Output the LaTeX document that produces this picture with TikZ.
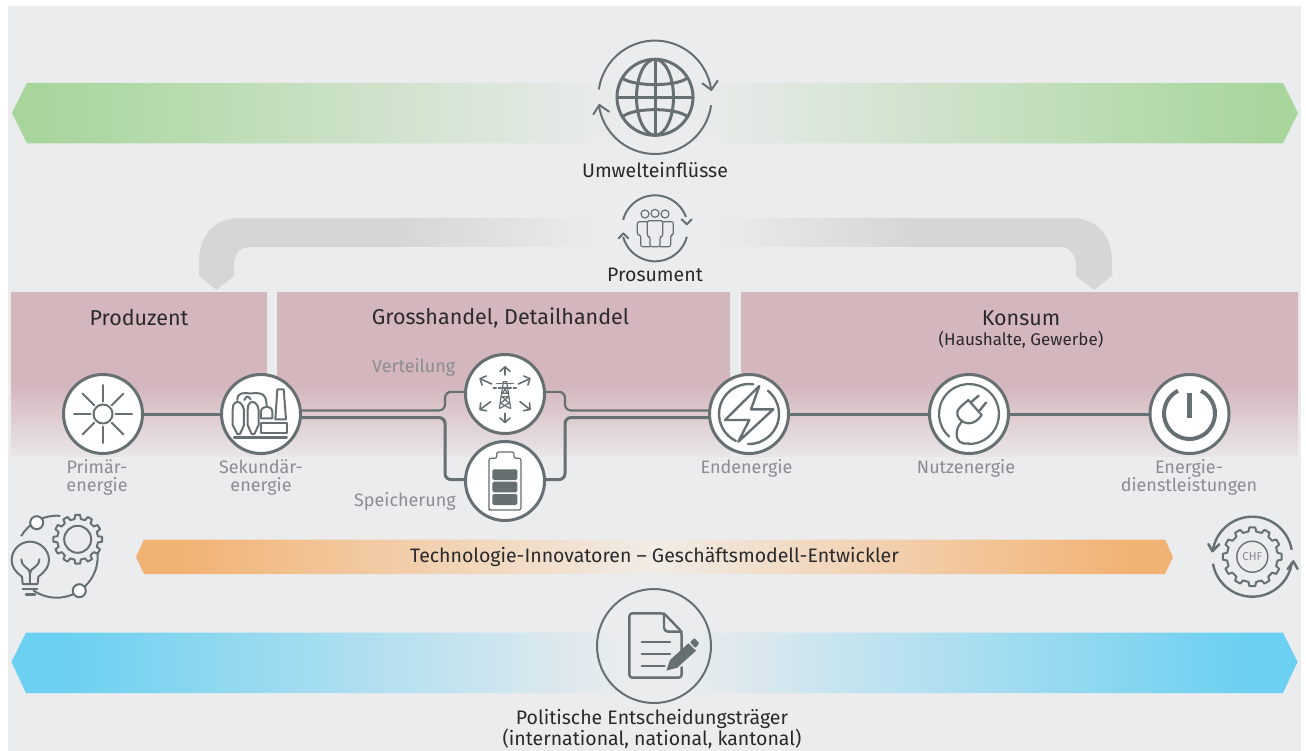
\documentclass[tikz,border=0pt]{standalone}
\usepackage{fontspec}
\setmainfont{Fira Sans}
\usetikzlibrary{arrows.meta,calc}
\definecolor{bgc}{HTML}{EBECEE}
\definecolor{pinkc}{HTML}{D4B6BD}
\definecolor{pinkend}{HTML}{E9E6E8}
\definecolor{greenc}{HTML}{A8D59C}
\definecolor{bluec}{HTML}{6BD0F1}
\definecolor{orangec}{HTML}{F2B273}
\definecolor{orangemid}{HTML}{F1ECE6}
\definecolor{archc}{HTML}{D5D6D8}
\definecolor{linec}{HTML}{667072}
\definecolor{labelc}{HTML}{8A8E91}
\definecolor{textc}{HTML}{2A2A2C}
\pgfdeclarehorizontalshading{greenfade}{100bp}{color(0bp)=(greenc);color(26bp)=(greenc);color(49bp)=(bgc);color(51bp)=(bgc);color(74bp)=(greenc);color(100bp)=(greenc)}
\pgfdeclarehorizontalshading{bluefade}{100bp}{color(0bp)=(bluec);color(27bp)=(bluec);color(49bp)=(bgc);color(51bp)=(bgc);color(73bp)=(bluec);color(100bp)=(bluec)}
\pgfdeclarehorizontalshading{orangefade}{100bp}{color(0bp)=(orangec);color(27bp)=(orangec);color(50bp)=(orangemid);color(73bp)=(orangec);color(100bp)=(orangec)}
\pgfdeclarehorizontalshading{archfade}{100bp}{color(0bp)=(archc);color(36bp)=(archc);color(47bp)=(bgc);color(53bp)=(bgc);color(64bp)=(archc);color(100bp)=(archc)}
\pgfdeclareverticalshading{pinkfade}{100bp}{color(0bp)=(pinkend);color(25bp)=(pinkend);color(47bp)=(pinkc);color(100bp)=(pinkc)}
\tikzset{
  hub/.style={circle,draw=linec,fill=white,line width=3pt,minimum size=79pt,inner sep=0pt},
  linkthick/.style={draw=linec,line width=3pt,rounded corners=6pt},
  linkthin/.style={draw=linec,line width=2.2pt,rounded corners=6pt},
  icon/.style={draw=linec,line width=2pt,line cap=round,line join=round},
  iconthin/.style={draw=linec,line width=1.2pt,line cap=round,line join=round},
  zoomat/.style 2 args={shift={(#1,#2)},x=0.33333pt,y=-0.33333pt},
  localat/.style 2 args={shift={(#1,#2)},y=1pt},
  headtxt/.style={text=textc,font=\fontsize{21.5}{24}\selectfont,inner sep=0pt,align=center},
  subtxt/.style={text=textc,font=\fontsize{17}{19}\selectfont,inner sep=0pt,align=center},
  captxt/.style={text=textc,font=\fontsize{19.5}{19}\selectfont,inner sep=0pt,align=center},
  labtxt/.style={text=labelc,font=\fontsize{18}{18.5}\selectfont,inner sep=0pt,align=center},
}
\newcommand{\cogpath}[5]{% x, y, outer, root, teeth
  \begin{scope}[localat={#1}{#2}]
    \pgfmathsetmacro{\wd}{360/#5}
    \draw[icon] (-.29*\wd:#4) \foreach \i in {1,...,#5}{
      -- (\i*\wd-\wd-.19*\wd:#3) -- (\i*\wd-\wd+.19*\wd:#3) -- (\i*\wd-\wd+.29*\wd:#4) -- (\i*\wd-.29*\wd:#4)
    } -- cycle;
  \end{scope}}
\begin{document}
\begin{tikzpicture}[x=1pt,y=-1pt]
\useasboundingbox (0,0) rectangle (1306,751);
\fill[white] (0,0) rectangle (1306,751);
\fill[bgc] (8,6) rectangle (1301,751);
% bands
\shade[shading=greenfade] (12,113) -- (27,83) -- (1283,83) -- (1298,113) -- (1283,143.5) -- (27,143.5) -- cycle;
\shade[shading=bluefade] (11.5,662) -- (26,632.5) -- (1283,632.5) -- (1297.5,662) -- (1283,693) -- (26,693) -- cycle;
\shade[shading=orangefade] (136,557) -- (144,539.5) -- (1165,539.5) -- (1173,557) -- (1165,574) -- (144,574) -- cycle;
% sector blocks
\shade[shading=pinkfade] (11,293) rectangle (267,456);
\shade[shading=pinkfade] (277,293) rectangle (730,456);
\shade[shading=pinkfade] (741,293) rectangle (1298,456);
% prosumer arch
\shade[shading=archfade] (199,276) -- (199,263) .. controls (199,235) and (214,218) .. (240,218) -- (1071,218) .. controls (1097,218) and (1112,235) .. (1112,263) -- (1112,276) -- (1094,290) -- (1076,276) -- (1076,266) .. controls (1076,254) and (1070,247) .. (1060,247) -- (250,247) .. controls (240,247) and (234,254) .. (234,266) -- (234,276) -- (216.5,290) -- cycle;
% hubs
\node[hub] (prim) at (103,414) {};
\node[hub] (sek) at (261,414) {};
\node[hub] (vert) at (505,394) {};
\node[hub] (spei) at (505,481) {};
\node[hub] (end) at (749,414) {};
\node[hub] (nutz) at (969,414) {};
\node[hub] (dien) at (1189.5,414) {};
\coordinate (lx) at (445,440);
\coordinate (rx) at (565,440);
% connectors
\draw[linkthick,rounded corners=0pt] (prim) -- (sek);
\draw[linkthin] (sek.5) -| (lx |- vert.177) -- (vert.177);
\draw[linkthick] (sek.-5) -| (lx |- spei.178) -- (spei.178);
\draw[linkthin] (vert.3) -| (rx |- end.175) -- (end.175);
\draw[linkthick] (spei.2) -| (rx |- end.-175) -- (end.-175);
\draw[linkthick,rounded corners=0pt] (end) -- (nutz);
\draw[linkthick,rounded corners=0pt] (nutz) -- (dien);
% headings
\node[headtxt] (hprod) at (139,318) {Produzent};
\node[headtxt] (hgross) at (500.5,318) {Grosshandel, Detailhandel};
\node[headtxt] (hkons) at (1021,318) {Konsum};
\node[subtxt] (hkons2) at (1021,339.5) {(Haushalte, Gewerbe)};
\node[captxt] (tumw) at (655,170.5) {Umwelteinflüsse};
\node[captxt] (tpros) at (655,274.5) {Prosument};
\node[captxt] (ttech) at (654.5,557) {Technologie-Innovatoren – Geschäftsmodell-Entwickler};
\node[captxt,font=\fontsize{19.5}{19.5}\selectfont] (tpol) at (652,729) {Politische Entscheidungsträger\\(international, national, kantonal)};
% hub labels
\node[labtxt] (lprim) at (97,477.5) {Primär-\\energie};
\node[labtxt] (lsek) at (261,477.5) {Sekundär-\\energie};
\node[labtxt,anchor=east] (lvert) at (455.5,367) {Verteilung};
\node[labtxt,anchor=east] (lspei) at (456,501) {Speicherung};
\node[labtxt] (lend) at (746.5,468) {Endenergie};
\node[labtxt] (lnutz) at (966,468) {Nutzenergie};
\node[labtxt] (ldien) at (1189,477.5) {Energie-\\dienstleistungen};
% sun
\draw[icon] (prim.center) circle (9.5);
\foreach \a in {0,45,...,315}{\draw[icon] ($(prim.center)+(\a:12.5)$) -- ($(prim.center)+(\a:29)$);}
% factory
\begin{scope}[zoomat={0}{360}]
  \draw[icon] (700,135) .. controls (715,112) and (730,135) .. (732,150) -- (732,195) -- (720,222) -- (712,222) -- (698,195) -- (698,150) -- cycle;
  \draw[icon] (745,135) .. controls (760,112) and (775,135) .. (776,150) -- (776,195) -- (763,222) -- (755,222) -- (743,195) -- (743,150) -- cycle;
  \draw[icon] (712,120) .. controls (712,95) and (730,100) .. (755,100) .. controls (785,98) and (800,100) .. (800,140);
  \draw[icon] (733,120) .. controls (740,105) and (745,108) .. (752,118);
  \draw[icon] (783,175) -- (783,155) .. controls (785,135) and (815,135) .. (817,155) -- (817,175) -- cycle;
  \draw[icon] (832,88) -- (851,88) -- (858,178) -- (826,178) -- cycle;
  \draw[icon] (783,188) rectangle (860,220);
  \draw[icon,line width=2.4pt] (702,232) -- (860,232);
\end{scope}
% tower and arrows
\begin{scope}[zoomat={340}{340}]
  \draw[iconthin] (478,205) -- (490,125) -- (500,125) -- (512,205);
  \draw[iconthin] (484,170) -- (506,170) -- (482,190) -- (510,205);
  \draw[iconthin] (506,190) -- (480,205);
  \draw[iconthin] (488,140) -- (504,160) -- (486,160) -- (502,140);
  \draw[iconthin] (486,170) -- (508,190);
  \draw[iconthin] (470,130) -- (520,130);
  \draw[iconthin,dash pattern=on 3pt off 2pt] (460,144) -- (530,144);
  \foreach \p/\q in {{495,105}/{495,78},{455,132}/{418,115},{535,132}/{572,115},{452,185}/{418,210},{540,185}/{572,210},{495,220}/{495,250}}{
    \draw[draw=linec,line width=1.6pt,line cap=round,-{Straight Barb[length=4.5pt,width=10pt,round]}] (\p) -- (\q);
  }
\end{scope}
% battery
\begin{scope}[zoomat={340}{340}]
  \draw[iconthin,rounded corners=2pt] (447,505) -- (447,355) -- (470,355) -- (470,336) -- (522,336) -- (522,355) -- (543,355) -- (543,510) -- (447,510) -- cycle;
  \fill[linec,rounded corners=1.5pt] (457,388) rectangle (532,420);
  \fill[linec,rounded corners=1.5pt] (457,425) rectangle (532,457);
  \fill[linec,rounded corners=1.5pt] (457,462) rectangle (532,495);
\end{scope}
% lightning
\begin{scope}[localat={749}{414}]
  \draw[icon,line width=2.4pt] (82:30) arc (82:244:30);
  \draw[icon,line width=2.4pt] (-92:30) arc (-92:51:30);
\end{scope}
\begin{scope}[zoomat={340}{340}]
  \draw[icon,line width=2.4pt] (1258,138) -- (1155,240) -- (1228,240) -- (1195,305) -- (1300,208) -- (1233,208) -- cycle;
\end{scope}
% plug
\begin{scope}[localat={969}{414}]
  \draw[icon,line width=2.2pt] (229:30) arc (229:-90:30);
\end{scope}
\begin{scope}[zoomat={900}{360}]
  \draw[icon,line width=2.2pt] (207,250) .. controls (180,255) and (168,240) .. (170,218) .. controls (172,200) and (178,195) .. (185,185);
  \draw[icon,line width=2.2pt] (205,120) -- (245,165) .. controls (235,180) and (222,190) .. (205,190) .. controls (185,190) and (168,170) .. (172,155) .. controls (175,143) and (192,132) .. (205,120) -- cycle;
  \draw[icon,line width=2.4pt] (215,125) -- (236,107);
  \draw[icon,line width=2.4pt] (240,150) -- (258,128);
\end{scope}
% power
\begin{scope}[localat={1189.5}{413.5}]
  \draw[icon,line width=4pt,line cap=butt] (63:25.5) arc (63:-243:25.5);
\end{scope}
\fill[linec] ($(dien.center)+(-2.3,-21)$) rectangle ($(dien.center)+(2.3,4)$);
% globe
\begin{scope}[localat={655}{97.3}]
  \draw[icon,line width=3pt] (0,0) circle (38);
  \draw[icon,line width=3pt] (0,0) ellipse (18.5 and 38);
  \draw[icon,line width=3pt] (0,38) -- (0,-38);
  \draw[icon,line width=3pt] (-38,0) -- (38,0);
  \draw[icon,line cap=butt] (172:56.7) arc (172:9:56.7);
  \draw[icon,line cap=butt] (-8:56.7) arc (-8:-172:56.7);
\end{scope}
\begin{scope}[zoomat={540}{20}]
  \draw[icon,line width=3pt] (248,175) .. controls (280,200) and (410,200) .. (440,175);
  \draw[icon,line width=3pt] (248,290) .. controls (280,262) and (410,262) .. (442,290);
  \draw[icon] (487,190) -- (514,210) -- (533,182);
  \draw[icon] (160,283) -- (178,255) -- (207,275);
\end{scope}
% prosumer icon
\begin{scope}[localat={655}{228.3}]
  \draw[icon,line cap=butt] (165:33) arc (165:20:33);
  \draw[icon,line cap=butt] (-15:33) arc (-15:-165:33);
\end{scope}
\begin{scope}[zoomat={540}{20}]
  \draw[icon] (425,598) -- (441,613) -- (455,598);
  \draw[icon] (236,655) -- (250,640) -- (265,655);
  \draw[iconthin] (315,582) circle (12);
  \draw[iconthin] (345,580) circle (12);
  \draw[iconthin] (375,582) circle (12);
  \draw[iconthin,rounded corners=2pt] (330,680) -- (330,650) -- (322,650) -- (322,602) -- (368,602) -- (368,650) -- (360,650) -- (360,680) -- cycle;
  \draw[iconthin,rounded corners=2pt] (322,605) -- (292,605) -- (292,645) -- (302,645) -- (302,680) -- (330,680);
  \draw[iconthin,rounded corners=2pt] (368,605) -- (400,605) -- (400,645) -- (392,645) -- (392,680) -- (360,680);
\end{scope}
% bulb and gear
\cogpath{77.7}{539.3}{24.5}{20.5}{12}
\draw[icon] (77.7,539.3) circle (13.5);
\begin{scope}[localat={56.7}{556.7}]
  \draw[icon,line cap=butt] (150:41) arc (150:85:41);
  \draw[icon,line cap=butt] (5:41) arc (5:-125:41);
\end{scope}
\draw[icon,fill=white] (36.7,522.7) circle (6.5);
\draw[icon,fill=white] (79.3,590.7) circle (6.5);
\begin{scope}[zoomat={0}{360}]
  \draw[icon] (68,672) -- (66,650) .. controls (45,635) and (35,620) .. (35,600) .. controls (35,570) and (60,545) .. (90,545) .. controls (120,545) and (147,570) .. (147,600) .. controls (147,620) and (135,635) .. (115,650) -- (113,672) -- cycle;
  \draw[icon] (64,598) .. controls (66,625) and (90,622) .. (90,640) -- (90,672);
  \draw[icon] (118,598) .. controls (116,625) and (90,622) .. (90,640);
  \draw[icon] (68,688) -- (112,688);
  \draw[icon,line width=2.6pt] (78,704) -- (105,704);
\end{scope}
% CHF gear
\cogpath{1252.3}{556.7}{29.5}{25.5}{12}
\node[circle,draw=linec,line width=1.4pt,minimum size=31pt,inner sep=0pt,text=labelc,font=\fontsize{11.5}{12}\selectfont] (chf) at (1252.3,556.7) {CHF};
\begin{scope}[localat={1252.3}{556.7}]
  \draw[icon,line width=2.4pt,line cap=butt] (10:40) arc (10:172:40);
  \draw[icon,line width=2.4pt,line cap=butt] (190:40) arc (190:352:40);
\end{scope}
\begin{scope}[zoomat={900}{360}]
  \draw[icon,line width=2.4pt] (925,552) -- (937,574) -- (958,553);
  \draw[icon,line width=2.4pt] (1163,627) -- (1180,604) -- (1193,627);
\end{scope}
% policy icon
\begin{scope}[zoomat={540}{580}]
  \draw[icon] (342,198) circle (171);
  \draw[icon,line width=2.4pt,rounded corners=3pt] (425,215) -- (425,155) -- (372,100) -- (268,100) -- (268,293) -- (425,293) -- (425,262);
  \draw[icon,line width=2.4pt,rounded corners=4pt] (372,100) -- (372,155) -- (425,155);
  \draw[icon,line width=2.2pt] (305,187) -- (390,187);
  \draw[icon,line width=2.2pt] (305,222) -- (390,222);
  \draw[icon,line width=2.2pt] (305,258) -- (374,258);
  \fill[linec] (379,272) -- (390,240) -- (445,190) -- (468,212) -- (412,263) -- cycle;
  \fill[linec,rounded corners=1pt] (450,187) -- (463,174) -- (478,190) -- (466,204) -- cycle;
\end{scope}
\end{tikzpicture}
\end{document}
